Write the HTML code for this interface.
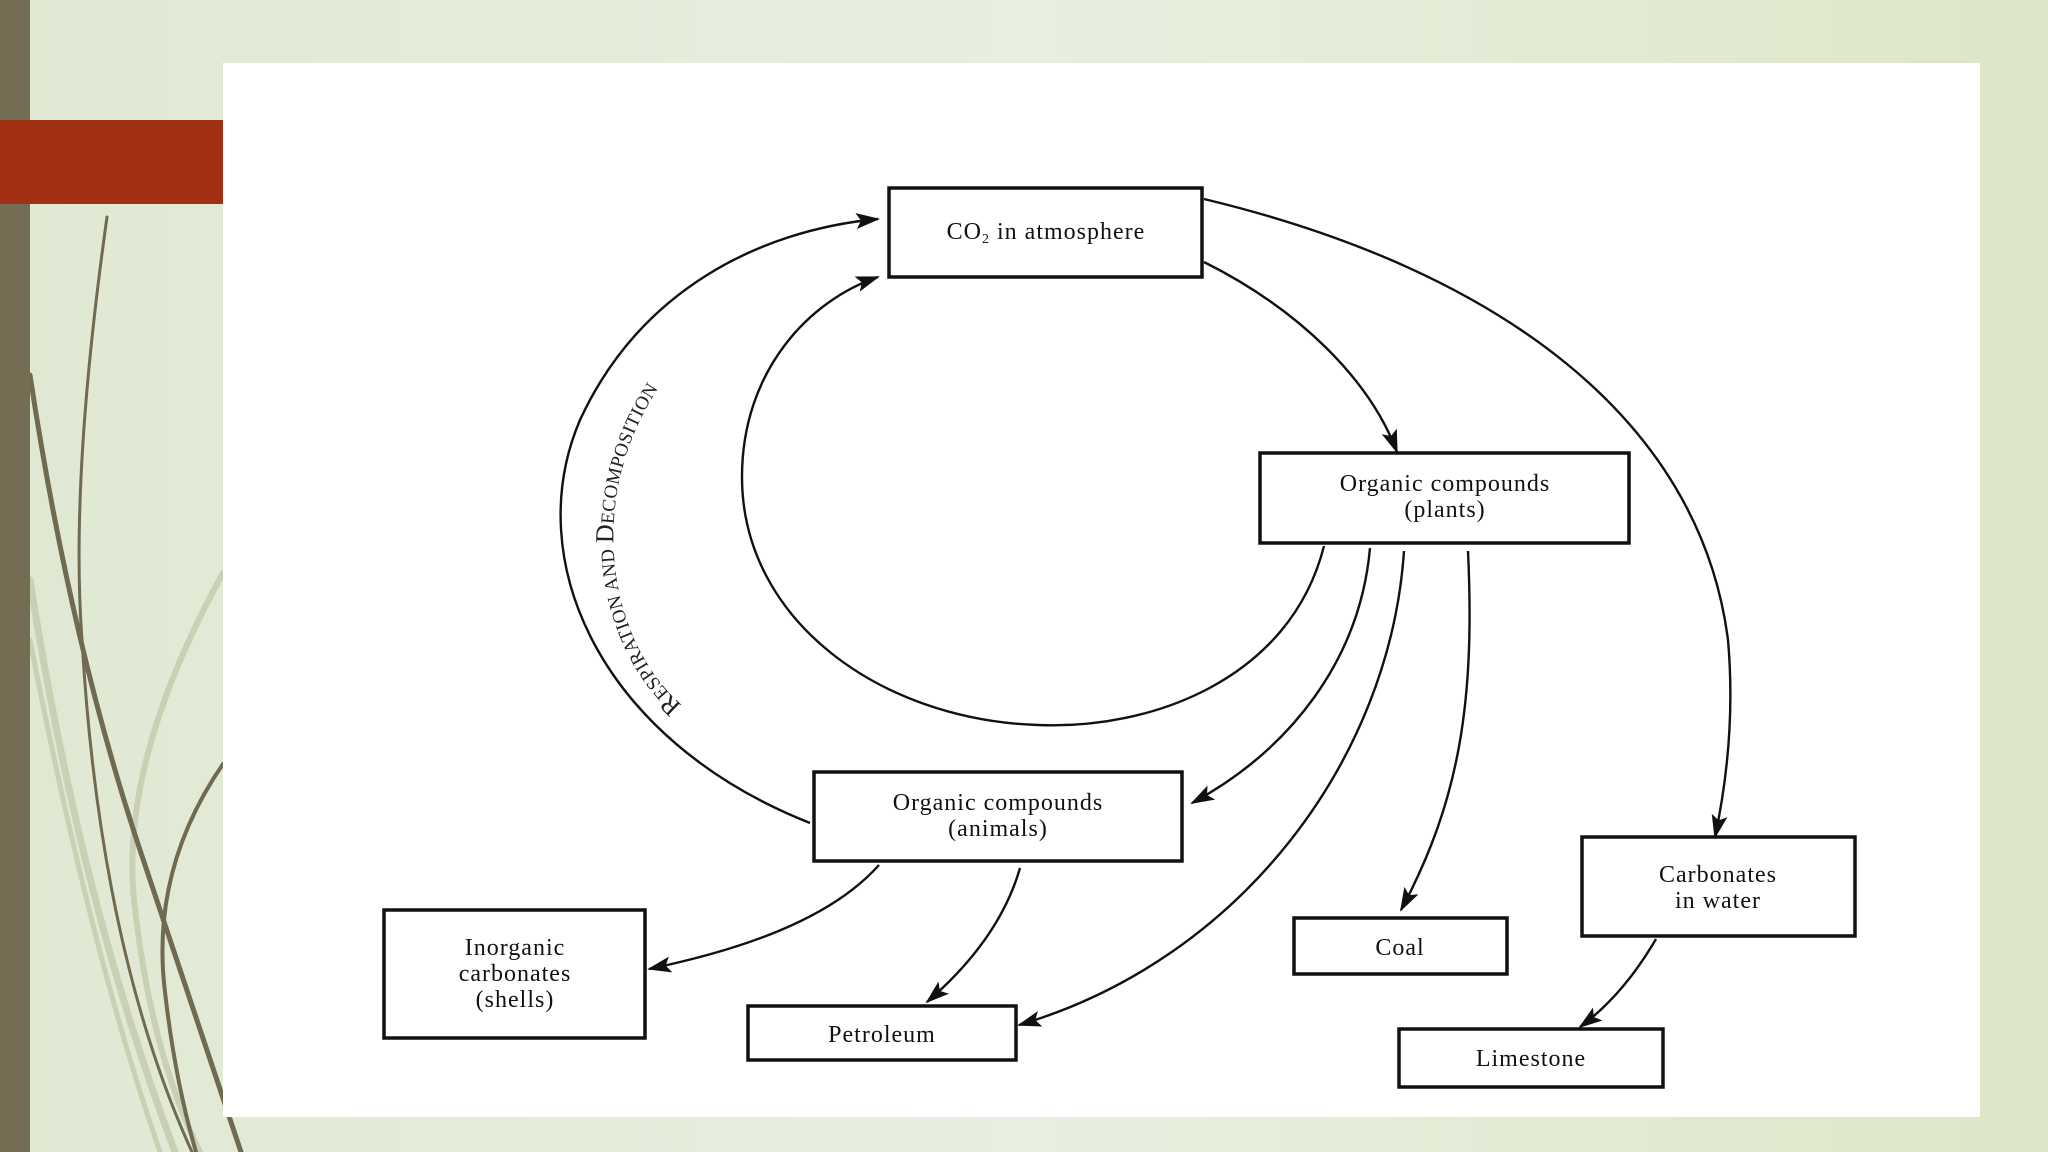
<!DOCTYPE html>
<html><head><meta charset="utf-8"><style>
html,body{margin:0;padding:0;}
body{width:2048px;height:1152px;overflow:hidden;background:linear-gradient(90deg,#e0e8d2 0%,#e9efe0 50%,#dde6c8 100%);position:relative;font-family:"Liberation Serif",serif;}
svg{position:absolute;left:0;top:0;}
</style></head><body>
<svg width="2048" height="1152" viewBox="0 0 2048 1152">
<defs>
<marker id="a" markerWidth="24" markerHeight="16" refX="22" refY="8" orient="auto" markerUnits="userSpaceOnUse" viewBox="0 0 24 16">
<path d="M0,0 L24,8 L0,16 L5,8 z" fill="#111"/>
</marker>
</defs>
<g fill="none" stroke-linecap="round">
<path d="M223,573 Q120,760 134,900 Q150,1050 200,1152" stroke="#c9d0b4" stroke-width="6"/>
<path d="M30,580 Q80,900 175,1152" stroke="#c9d0b4" stroke-width="7"/>
<path d="M30,640 Q90,950 160,1152" stroke="#c9d0b4" stroke-width="5"/>
<path d="M107,217 Q70,480 82,640 Q100,950 192,1152" stroke="#6f6a50" stroke-width="3"/>
<path d="M30,375 Q70,640 140,850 Q190,1000 241,1152" stroke="#6f6a50" stroke-width="5"/>
<path d="M223,764 Q150,870 165,992 Q175,1080 196,1152" stroke="#6f6a50" stroke-width="4"/>
</g>
<rect x="0" y="0" width="30" height="1152" fill="#756d53"/>
<rect x="0" y="120" width="223" height="84" fill="#a23015"/>
<rect x="223" y="63" width="1757" height="1054" fill="#fff"/>
<g fill="none" stroke="#111" stroke-width="2.4">
<path d="M810,823 C600,740 520,560 580,420 C640,290 760,230 878,219" marker-end="url(#a)"/>
<path d="M1324,546 C1290,680 1150,730 1038,725 C880,720 742,620 742,477 C742,370 810,300 878,277" marker-end="url(#a)"/>
<path d="M1204,262 C1300,310 1370,380 1397,452" marker-end="url(#a)"/>
<path d="M1204,199 C1500,270 1700,420 1728,640 C1735,720 1725,790 1715,837" marker-end="url(#a)"/>
<path d="M1370,548 C1360,660 1290,750 1192,803" marker-end="url(#a)"/>
<path d="M1404,551 C1390,760 1240,960 1019,1025" marker-end="url(#a)"/>
<path d="M1468,551 C1475,700 1460,800 1401,910" marker-end="url(#a)"/>
<path d="M879,865 C830,920 740,950 649,969" marker-end="url(#a)"/>
<path d="M1020,868 C1005,920 970,965 927,1002" marker-end="url(#a)"/>
<path d="M1656,939 C1635,975 1610,1005 1580,1027" marker-end="url(#a)"/>
</g>
<path id="tp" d="M682,705 C595,630 580,450 700,340" fill="none"/>
<text font-family="Liberation Serif,serif" font-size="19" fill="#222" letter-spacing="0.3"><textPath href="#tp"><tspan font-size="26">R</tspan>ESPIRATION AND <tspan font-size="26">D</tspan>ECOMPOSITION</textPath></text>
<g fill="#fff" stroke="#111" stroke-width="3.5">
<rect x="889" y="188" width="313" height="89"/>
<rect x="1260" y="453" width="369" height="90"/>
<rect x="814" y="772" width="368" height="89"/>
<rect x="384" y="910" width="261" height="128"/>
<rect x="748" y="1006" width="268" height="54"/>
<rect x="1294" y="918" width="213" height="56"/>
<rect x="1582" y="837" width="273" height="99"/>
<rect x="1399" y="1029" width="264" height="58"/>
</g>
<g font-family="Liberation Serif,serif" font-size="24" fill="#111" text-anchor="middle" letter-spacing="1">
<text x="1046" y="239">CO<tspan font-size="14" dy="4">2</tspan><tspan dy="-4"> in atmosphere</tspan></text>
<text x="1445" y="491">Organic compounds</text><text x="1445" y="517">(plants)</text>
<text x="998" y="810">Organic compounds</text><text x="998" y="836">(animals)</text>
<text x="515" y="955">Inorganic</text><text x="515" y="981">carbonates</text><text x="515" y="1007">(shells)</text>
<text x="882" y="1042">Petroleum</text>
<text x="1400" y="955">Coal</text>
<text x="1718" y="882">Carbonates</text><text x="1718" y="908">in water</text>
<text x="1531" y="1066">Limestone</text>
</g>
</svg>
</body></html>
